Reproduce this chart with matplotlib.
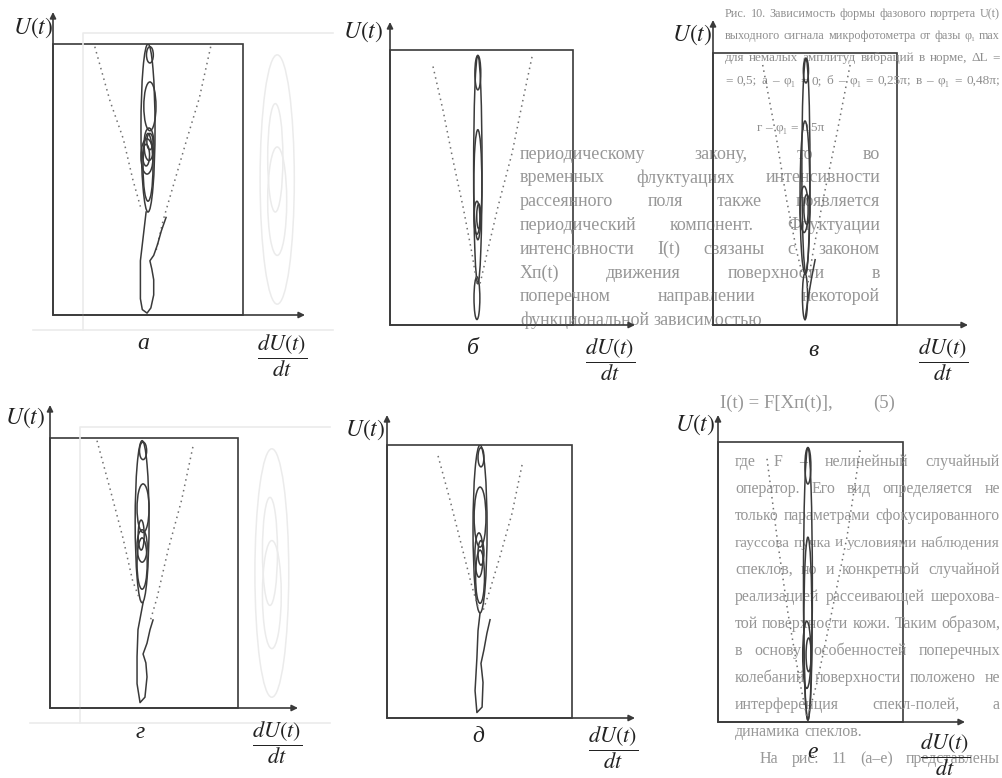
import matplotlib.pyplot as plt
from matplotlib.patches import Ellipse, Rectangle

plt.rcParams['mathtext.fontset'] = 'stix'

W, H = 1002, 778
INK = '#3a3a3a'
DOT = '#707070'
GHOST = '#ebebeb'
TXT = '#979797'
SERIF = ['Liberation Serif', 'DejaVu Serif']

# phase portraits: U in % of U max, dU/dt in % of its max
# loops: (centre dU/dt, U low, U high, half width)
a_loops = [(50, 38, 100, 3.7), (51, 93, 99, 1.8), (51, 68, 86, 3.2), (50.5, 57, 69, 2.6),
           (49.5, 52, 65, 3.2), (51, 61, 67, 1.6), (49, 55, 63, 1.8), (50, 42, 67, 2.6)]
a_tail_x = [49, 48, 47, 46, 46, 46, 47, 49.5, 51.5, 53, 53, 52, 51, 53, 55, 57, 59.5]
a_tail_u = [38, 32, 26, 20, 13, 6, 2, 0.7, 2.6, 7.4, 13, 17, 20, 22, 26, 31, 36]
a_left_x, a_left_u = [22, 30, 37, 42, 46], [99, 79, 65, 50, 40]
a_right_x, a_right_u = [83, 77, 70.5, 63, 58, 54], [99, 80, 65, 47, 35, 23]

b_loops = [(48, 85.5, 98, 1.6), (48, 15, 98, 2.3), (48, 31, 71, 2.2), (47.5, 33, 45, 1.6),
           (48.5, 35, 44, 1.1), (47.5, 2, 17.5, 1.6)]
b_tail_x, b_tail_u = [], []
b_left_x, b_left_u = [23.5, 29, 34.4, 39.9, 44.8, 47.5], [94, 78, 60, 43, 26, 15]
b_right_x, b_right_u = [77.6, 72.7, 66.7, 59, 53, 49.2], [97.5, 82, 62.5, 43, 26, 15]

v_loops = [(50.5, 89, 98, 1.4), (50.5, 19, 98, 2.2), (50, 19, 75, 2.7), (49.5, 34, 51, 2.2),
           (51, 37, 48, 1.6), (50, 2, 19, 1.4)]
v_tail_x, v_tail_u = [50, 51.5, 53.5, 55.5], [2, 9, 17, 24]
v_left_x, v_left_u = [27, 34, 40, 45.7, 48.4], [95.6, 70.6, 46, 26.5, 19]
v_right_x, v_right_u = [74.5, 67.4, 59.8, 54.3, 51], [95.6, 70.6, 46, 26.5, 13]

g_loops = [(49.5, 92, 98.5, 1.9), (49, 39, 99, 3.7), (49.5, 65, 83, 3.2), (49, 54, 66, 2.7),
           (48.5, 58.5, 69.6, 1.6), (49, 44, 63, 2.7)]
g_tail_x = [49.5, 46.8, 46.3, 46.3, 47.9, 50.5, 51.6, 51, 49.5, 51.6, 53.2, 54.8]
g_tail_u = [39, 29, 19, 9, 2, 4, 11.5, 16.7, 20, 24, 29, 32.6]
g_left_x, g_left_u = [25, 32, 38.8, 44, 47.9], [99, 81, 63, 47, 40]
g_right_x, g_right_u = [76, 70, 62.8, 57, 53], [96.7, 77, 58.5, 41, 31.5]

d_loops = [(50.8, 92, 99, 1.6), (50.3, 38.5, 100, 3.8), (50.3, 62.6, 84.6, 3.2),
           (49.7, 51.6, 67.8, 2.2), (50.8, 56, 65, 1.6), (50.3, 42, 61.5, 2.4)]
d_tail_x = [50.3, 49.2, 48.6, 47.6, 48.6, 51.4, 51.9, 50.8, 52.4, 54, 55.7]
d_tail_u = [38.5, 32, 22, 10, 2, 4, 13, 20, 25, 31, 36]
d_left_x, d_left_u = [27.6, 34, 40.5, 46, 49.2], [96, 80, 62.6, 48, 40.7]
d_right_x, d_right_u = [73, 67.6, 61, 55.7, 52], [92.7, 75, 59, 47, 39.5]

e_loops = [(48.6, 85, 98, 1.6), (48.6, 0.7, 98, 2.4), (48.6, 0.7, 66, 2.2), (48, 12, 36, 2.2),
           (49, 18, 30, 1.4)]
e_tail_x, e_tail_u = [], []
e_left_x, e_left_u = [26.5, 31.9, 37.8, 44.3, 48], [94, 66, 39, 14, 2]
e_right_x, e_right_u = [76.8, 69.7, 60.5, 53.5, 48.6], [97, 66, 36, 14, 2]

# faint show-through of the reverse page
ghost_loops = [(118, 4, 96, 9), (118, 22, 62, 5), (117, 38, 78, 4)]

panels = [
    dict(letter='а', box=(53, 243, 315, 44), top=12, right=305, ul=(33, 28), lt=(143, 343), fr=(282, 356),
         data=(a_loops, a_tail_x, a_tail_u, a_left_x, a_left_u, a_right_x, a_right_u), ghost=True),
    dict(letter='б', box=(390, 573, 325, 50), top=22, right=635, ul=(363, 32), lt=(473, 348), fr=(610, 360),
         data=(b_loops, b_tail_x, b_tail_u, b_left_x, b_left_u, b_right_x, b_right_u), ghost=False),
    dict(letter='в', box=(713, 897, 325, 53), top=20, right=968, ul=(692, 35), lt=(813, 350), fr=(943, 360),
         data=(v_loops, v_tail_x, v_tail_u, v_left_x, v_left_u, v_right_x, v_right_u), ghost=False),
    dict(letter='г', box=(50, 238, 708, 438), top=405, right=298, ul=(25, 418), lt=(140, 732), fr=(277, 743),
         data=(g_loops, g_tail_x, g_tail_u, g_left_x, g_left_u, g_right_x, g_right_u), ghost=True),
    dict(letter='д', box=(387, 572, 718, 445), top=415, right=635, ul=(365, 430), lt=(478, 737), fr=(613, 748),
         data=(d_loops, d_tail_x, d_tail_u, d_left_x, d_left_u, d_right_x, d_right_u), ghost=False),
    dict(letter='е', box=(718, 903, 722, 442), top=415, right=965, ul=(695, 425), lt=(813, 752), fr=(945, 755),
         data=(e_loops, e_tail_x, e_tail_u, e_left_x, e_left_u, e_right_x, e_right_u), ghost=False),
]

caption = ['Рис. 10. Зависимость формы фазового портрета U(t)',
           'выходного сигнала микрофотометра от фазы φ₁ max',
           'для немалых амплитуд вибраций в норме, ΔL =',
           '= 0,5; а – φ₁ = 0; б – φ₁ = 0,25π; в – φ₁ = 0,48π;',
           'г – φ₁ = 0,5π']
body_top = ['периодическому закону, то во',
            'временных флуктуациях интенсивности',
            'рассеянного поля также появляется',
            'периодический компонент. Флуктуации',
            'интенсивности I(t) связаны с законом',
            'Xп(t) движения поверхности в',
            'поперечном направлении некоторой',
            'функциональной зависимостью']
formula = 'I(t) = F[Xп(t)],'
body_low = ['где F – нелинейный случайный',
            'оператор. Его вид определяется не',
            'только параметрами сфокусированного',
            'гауссова пучка и условиями наблюдения',
            'спеклов, но и конкретной случайной',
            'реализацией рассеивающей шерохова-',
            'той поверхности кожи. Таким образом,',
            'в основу особенностей поперечных',
            'колебаний поверхности положено не',
            'интерференция спекл-полей, а',
            'динамика спеклов.',
            'На рис. 11 (а–е) представлены']

fig = plt.figure(figsize=(W / 100, H / 100), dpi=100)
fig.patch.set_facecolor('white')
page = fig.add_axes([0, 0, 1, 1])
page.set_xlim(0, W)
page.set_ylim(H, 0)
page.axis('off')
renderer = fig.canvas.get_renderer()


def put_line(s, xl, xr, y, size, justify=True, color=TXT):
    words = s.split()
    while True:
        ts = [page.text(0, y, w, fontsize=size, family=SERIF, color=color, va='center') for w in words]
        ws = [t.get_window_extent(renderer).width for t in ts]
        gap = size * 0.33
        if not justify or sum(ws) + gap * (len(words) - 1) <= xr - xl or size < 6:
            break
        for t in ts:
            t.remove()
        size -= 0.25
    if justify and len(words) > 1:
        gap = (xr - xl - sum(ws)) / (len(words) - 1)
    x = xl
    for t, w in zip(ts, ws):
        t.set_x(x)
        x += w + gap


# page text behind the figure
cap_y = [14, 36, 58, 81, 128]
for i, s in enumerate(caption):
    put_line(s, 725 if i < 4 else 757, 1000, cap_y[i], 9.5, justify=i < 4, color='#8e8e8e')
for i, s in enumerate(body_top):
    put_line(s, 520, 880, 154 + i * 23.8, 13, justify=i < len(body_top) - 1)
page.text(720, 403, formula, fontsize=13.5, family=SERIF, color=TXT, va='center')
page.text(873, 403, '(5)', fontsize=13.5, family=SERIF, color=TXT, va='center')
for i, s in enumerate(body_low):
    xl = 760 if s.startswith('На') else 735
    put_line(s, xl, 1000, 462 + i * 27, 11.5, justify=s != 'динамика спеклов.')

arrow = dict(arrowstyle='-|>', color=INK, lw=1.2, mutation_scale=9, shrinkA=0, shrinkB=0)

for p in panels:
    x0, x1, y0, y1 = p['box']
    if p['ghost']:
        page.plot([x0 + 30, x0 + 30, x0 + 280], [y0 + 15, y1 - 11, y1 - 11], color=GHOST, lw=1.2)
        page.plot([x0 - 20, x0 + 280], [y0 + 15, y0 + 15], color=GHOST, lw=1.2)
    page.add_patch(Rectangle((x0, y1), x1 - x0, y0 - y1, fill=False, ec=INK, lw=1.2))
    page.annotate('', xy=(x0, p['top']), xytext=(x0, y0), arrowprops=arrow)
    page.annotate('', xy=(p['right'], y0), xytext=(x0, y0), arrowprops=arrow)
    page.text(*p['ul'], '$U(t)$', fontsize=17, ha='center', va='center', color='#222222')
    page.text(*p['lt'], p['letter'], fontsize=17, family=SERIF, style='italic',
              ha='center', va='center', color='#222222')
    page.text(*p['fr'], r'$\dfrac{dU(t)}{dt}$', fontsize=16, ha='center', va='center', color='#222222')

    loops, tx, tu, lx, lu, rx, ru = p['data']
    ax = fig.add_axes([x0 / W, 1 - y0 / H, (x1 - x0) / W, (y0 - y1) / H])
    ax.set_xlim(0, 100)
    ax.set_ylim(0, 100)
    ax.axis('off')
    ax.patch.set_alpha(0)
    if p['ghost']:
        for cx, lo, hi, hw in ghost_loops:
            ax.add_patch(Ellipse((cx, (lo + hi) / 2), 2 * hw, hi - lo, fill=False, ec=GHOST,
                                 lw=1.1, clip_on=False))
    ax.plot(lx, lu, color=DOT, lw=1.1, ls=(0, (1, 2.6)))
    ax.plot(rx, ru, color=DOT, lw=1.1, ls=(0, (1, 2.6)))
    for cx, lo, hi, hw in loops:
        ax.add_patch(Ellipse((cx, (lo + hi) / 2), 2 * hw, hi - lo, fill=False, ec=INK, lw=1.1))
    if tx:
        ax.plot(tx, tu, color=INK, lw=1.1)

fig.savefig('out.png', dpi=100, facecolor='white')
